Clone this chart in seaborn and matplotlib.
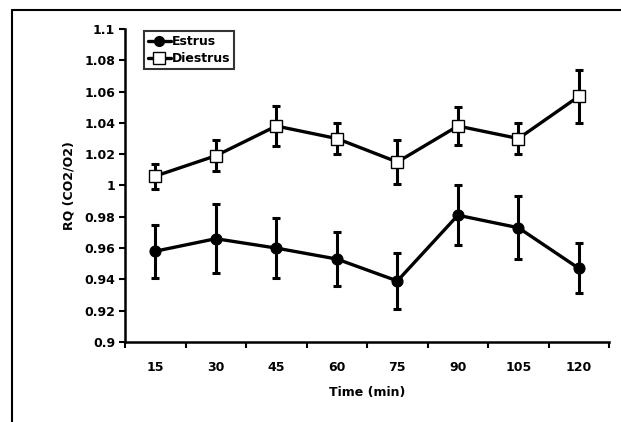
import matplotlib
matplotlib.use("Agg")
import matplotlib.pyplot as plt
import seaborn as sns
import pandas as pd
import numpy as np
from matplotlib.lines import Line2D

times = ["15", "30", "45", "60", "75", "90", "105", "120"]
estrus = [0.958, 0.966, 0.960, 0.953, 0.939, 0.981, 0.973, 0.947]
estrus_err = [0.017, 0.022, 0.019, 0.017, 0.018, 0.019, 0.020, 0.016]
diestrus = [1.006, 1.019, 1.038, 1.030, 1.015, 1.038, 1.030, 1.057]
diestrus_err = [0.008, 0.010, 0.013, 0.010, 0.014, 0.012, 0.010, 0.017]
yticks = [0.9, 0.92, 0.94, 0.96, 0.98, 1.0, 1.02, 1.04, 1.06, 1.08, 1.1]
ytick_labels = ["0.9", "0.92", "0.94", "0.96", "0.98", "1", "1.02", "1.04", "1.06", "1.08", "1.1"]

sns.set_style("ticks")
plt.rcParams['font.family'] = ['DejaVu Sans']
plt.rcParams['text.color'] = 'black'
plt.rcParams['axes.labelcolor'] = 'black'
plt.rcParams['xtick.color'] = 'black'
plt.rcParams['ytick.color'] = 'black'

idx = np.arange(len(times))
df = pd.DataFrame({
    "x": np.concatenate([idx, idx]),
    "RQ": estrus + diestrus,
    "err": estrus_err + diestrus_err,
    "group": ["Estrus"] * len(times) + ["Diestrus"] * len(times),
})

fig = plt.figure(figsize=(6.21, 4.22), dpi=100)
ax = fig.add_axes([0.2013, 0.1896, 0.7797, 0.7417])

for g in ["Estrus", "Diestrus"]:
    sub = df[df.group == g]
    ax.errorbar(sub.x, sub.RQ, yerr=sub.err, fmt="none", ecolor="black",
                elinewidth=2.2, capsize=3, capthick=2.2, zorder=2)

sns.lineplot(data=df, x="x", y="RQ", hue="group", style="group",
             markers={"Estrus": "o", "Diestrus": "s"}, dashes=False,
             palette={"Estrus": "black", "Diestrus": "black"},
             linewidth=2.4, markersize=8, ax=ax, zorder=3, legend=False)

for l in ax.get_lines():
    if len(l.get_xdata()) != len(times):
        continue
    if l.get_marker() == "s":
        l.set_markerfacecolor("white")
        l.set_markeredgecolor("black")
        l.set_markeredgewidth(1.0)
        l.set_markersize(9)
    elif l.get_marker() == "o":
        l.set_markerfacecolor("black")
        l.set_markeredgecolor("black")

ax.set_xlim(-0.5, len(times) - 0.5)
ax.set_ylim(0.9, 1.1)
ax.set_xticks(idx)
ax.set_xticklabels(times, fontsize=9, fontweight="bold")
ax.set_xticks(np.arange(len(times) + 1) - 0.5, minor=True)
ax.tick_params(axis="x", which="major", length=0, pad=14, bottom=True)
ax.tick_params(axis="x", which="minor", length=4, width=1.5, direction="out",
               color="black", bottom=True)
ax.set_yticks(yticks)
ax.set_yticklabels(ytick_labels, fontsize=9, fontweight="bold")
ax.tick_params(axis="y", which="major", length=4, width=1.5, direction="out",
               color="black", pad=3, left=True)

ax.set_xlabel("Time (min)", fontsize=9, fontweight="bold", labelpad=8)
ax.set_ylabel("RQ (CO2/O2)", fontsize=9, fontweight="bold", labelpad=6)

for s in ["top", "right"]:
    ax.spines[s].set_visible(False)
for s in ["left", "bottom"]:
    ax.spines[s].set_linewidth(1.8)
    ax.spines[s].set_color("black")

h_e = Line2D([], [], color="black", lw=2.4, marker="o", markersize=7, markerfacecolor="black")
h_d = Line2D([], [], color="black", lw=2.4, marker="s", markersize=8,
             markerfacecolor="white", markeredgewidth=1.0)
leg = ax.legend([h_e, h_d], ["Estrus", "Diestrus"], loc="upper left",
                bbox_to_anchor=(0.035, 1.0), frameon=True, fancybox=False,
                edgecolor="black", handlelength=1.8, handletextpad=0.1,
                borderpad=0.3, labelspacing=0.3, borderaxespad=0.2,
                prop={"weight": "bold", "size": 9})
leg.get_frame().set_linewidth(1.5)

# figure border (left and top only)
fig.add_artist(Line2D([0.02, 0.02], [0.0, 0.977], transform=fig.transFigure,
                      color="black", lw=1.5))
fig.add_artist(Line2D([0.02, 1.0], [0.977, 0.977], transform=fig.transFigure,
                      color="black", lw=1.5))

fig.savefig("out.png", dpi=100)
